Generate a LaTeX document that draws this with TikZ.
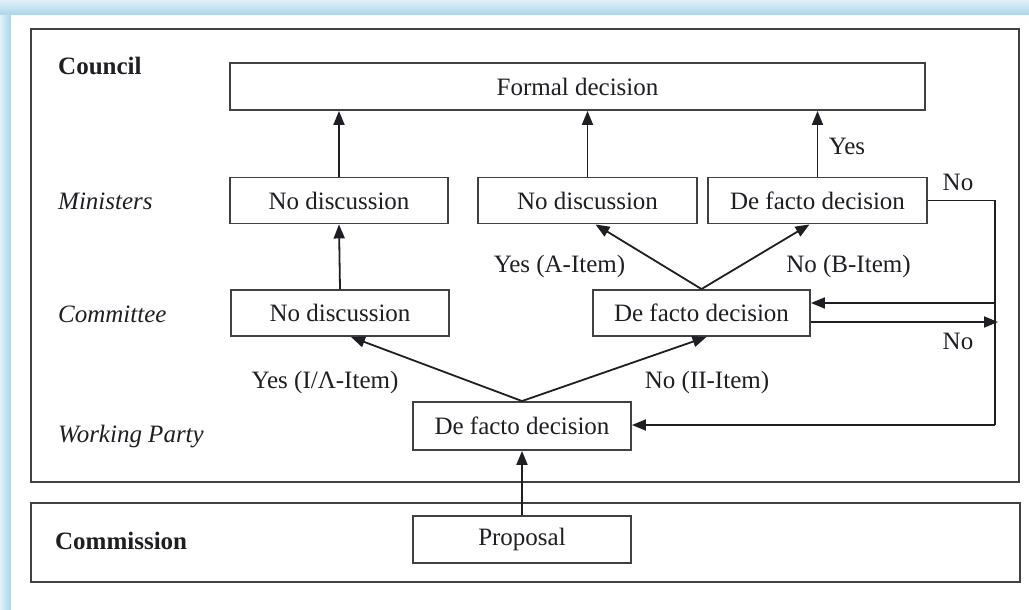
\documentclass[tikz,border=0pt]{standalone}
\usepackage{fontspec}
\setmainfont{Liberation Serif}
\usetikzlibrary{arrows.meta,calc}
\definecolor{edgeblue}{RGB}{168,214,234}
\definecolor{paleblue}{RGB}{226,241,249}
\definecolor{ink}{RGB}{30,30,35}
\definecolor{boxline}{RGB}{65,65,65}
\begin{document}
\begin{tikzpicture}[x=1pt,y=-1pt,
  box/.style={draw=boxline,line width=1.9pt,minimum height=46pt,inner sep=0pt,
              font=\fontsize{25}{30}\selectfont,text=ink},
  lbl/.style={font=\fontsize{25}{30}\selectfont,text=ink,inner sep=0pt},
  arr/.style={draw=ink,line width=1.8pt,-{Triangle[length=14pt,width=11pt]}},
  ln/.style={draw=ink,line width=1.8pt},
  frame/.style={draw=boxline,line width=2.2pt}]
\useasboundingbox (0,0) rectangle (1029,610);
% background card
\shade[left color=paleblue,right color=edgeblue] (0,0) rectangle (11,610);
\shade[top color=paleblue,bottom color=edgeblue] (0,0) rectangle (1029,15);
\fill[white] (11,15) rectangle (1029,610);
% frames
\draw[frame] (31,29) rectangle (1019,482);
\draw[frame] (31,503) rectangle (1020,582);
% row labels
\node[lbl,anchor=base west,font=\fontsize{25}{30}\selectfont\bfseries] (council) at (58,75) {Council};
\node[lbl,anchor=base west,font=\fontsize{25}{30}\selectfont\itshape] (ministers) at (58,209) {Ministers};
\node[lbl,anchor=base west,font=\fontsize{25}{30}\selectfont\itshape] (committee) at (58,322) {Committee};
\node[lbl,anchor=base west,font=\fontsize{25}{30}\selectfont\itshape] (wparty) at (58,442) {Working Party};
\node[lbl,anchor=base west,font=\fontsize{25}{30}\selectfont\bfseries] (commission) at (55,549) {Commission};
% boxes
\node[box,minimum width=695pt,minimum height=47pt] (formal) at (577.5,86.5) {Formal decision};
\node[box,minimum width=218pt] (mnd1) at (339,200.5) {No discussion};
\node[box,minimum width=219pt] (mnd2) at (587.5,200.5) {No discussion};
\node[box,minimum width=219pt] (mdf) at (817.5,200.5) {De facto decision};
\node[box,minimum width=218pt] (cnd) at (340,313) {No discussion};
\node[box,minimum width=217pt] (cdf) at (701.5,313) {De facto decision};
\node[box,minimum width=218pt,minimum height=48pt] (wp) at (522,426) {De facto decision};
\node[box,minimum width=218pt,minimum height=47pt] (prop) at (522,539.5) {Proposal};
% connectors
\draw[arr] (prop.north) -- (wp.south);
\draw[arr] (wp.north) -- ($(cnd.south)+(11,0)$);
\draw[arr] (wp.north) -- ($(cdf.south)+(5,0)$);
\draw[arr] (cnd.north) -- (mnd1.south);
\draw[arr] (mnd1.north) -- (mnd1.north |- formal.south);
\draw[arr] (cdf.north) -- ($(mnd2.south)+(8,0)$);
\draw[arr] (cdf.north) -- ($(mdf.south)+(-8,0)$);
\draw[arr] (mnd2.north) -- (mnd2.north |- formal.south);
\draw[arr] (mdf.north) -- (mdf.north |- formal.south);
% feedback loop
\coordinate (fbtop) at (995,200.5);
\coordinate (fbbot) at (995,425);
\coordinate (fbin) at (995,303);
\coordinate (fbout) at (998,322);
\draw[ln] (mdf.east) -- (fbtop) -- (fbbot);
\draw[arr] (fbbot) -- (wp.east |- fbbot);
\draw[arr] (fbin) -- (cdf.east |- fbin);
\draw[arr] (cdf.east |- fbout) -- (fbout);
% edge labels
\node[lbl] (lyes) at (847,146) {Yes};
\node[lbl] (lno1) at (958,182) {No};
\node[lbl] (lno2) at (958,341) {No};
\node[lbl] (lyesa) at (559.5,266) {Yes (A-Item)};
\node[lbl] (lnob) at (848.5,266) {No (B-Item)};
\node[lbl] (lyesi) at (325,382) {Yes (I/Λ-Item)};
\node[lbl] (lnoii) at (707,382) {No (II-Item)};
\end{tikzpicture}
\end{document}
